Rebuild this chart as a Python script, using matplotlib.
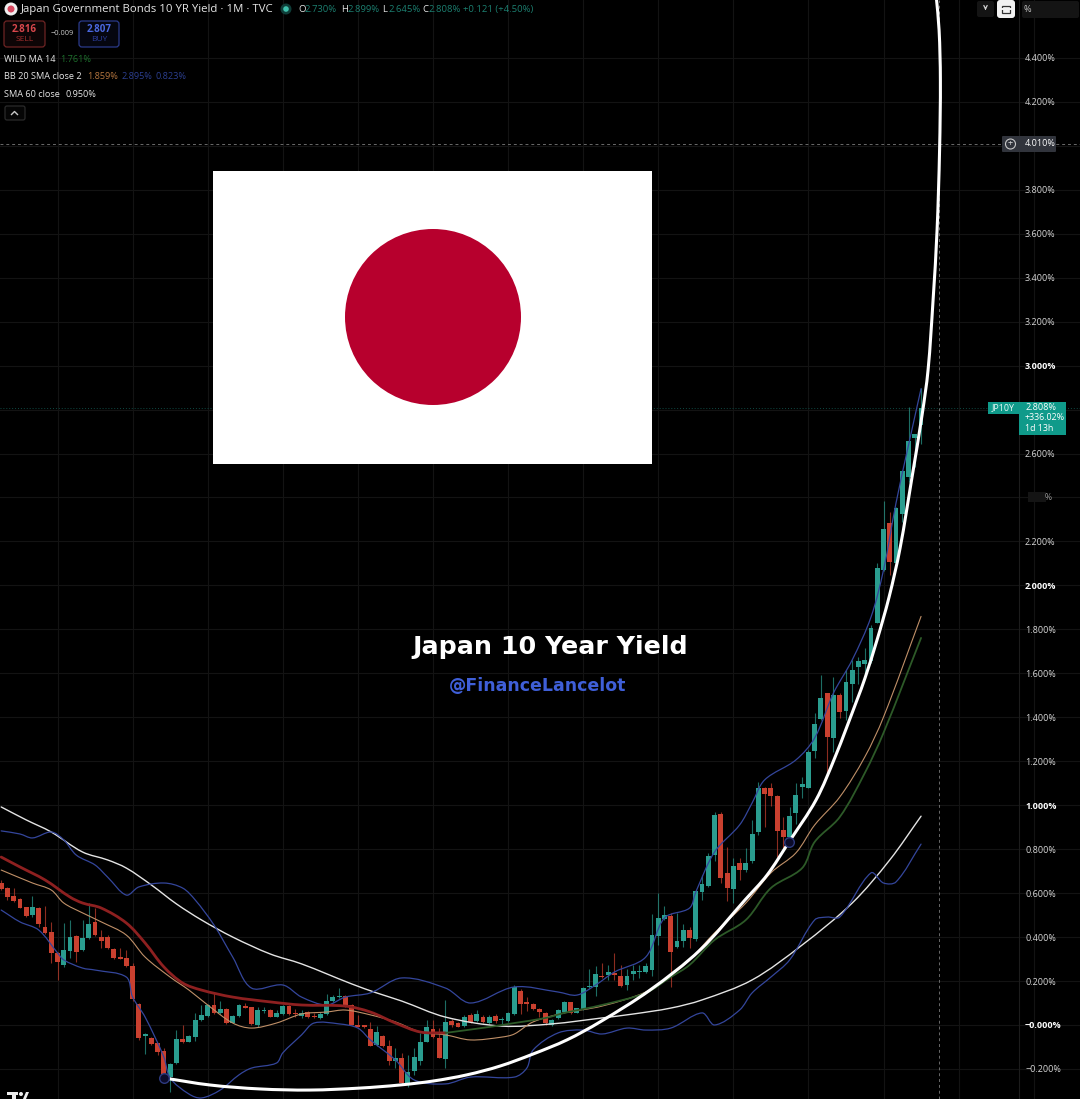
import numpy as np
import matplotlib
matplotlib.use('Agg')
import matplotlib.pyplot as plt
from matplotlib.patches import Rectangle, Circle, FancyBboxPatch, Polygon, PathPatch
from matplotlib.path import Path

# monthly candles (yield in %)
opens = [.647, .622, .588, .572, .535, .499, .534, .447, .421, .329,
         .273, .336, .406, .341, .394, .470, .399, .402, .346, .308,
         .305, .270, .095, -.052, -.061, -.084, -.117, -.238, -.175, -.062,
         -.076, -.053, .023, .041, .091, .053, .072, .011, .041, .088,
         .081, 0, .063, .069, .038, .050, .087, .056, .041, .058,
         .041, .032, .050, .108, .126, .132, .093, 0, -.001, -.018,
         -.089, -.050, -.094, -.166, -.148, -.262, -.210, -.166, -.076, -.018,
         -.059, -.153, .019, .008, -.004, .046, .020, .038, .008, .043,
         .023, .017, .050, .155, .106, .096, .075, .056, 0, .031,
         .058, .103, .056, .072, .172, .175, .223, .228, .238, .223,
         .182, .232, .241, .243, .248, .405, .483, .496, .354, .383,
         .433, .390, .604, .633, .774, .960, .690, .618, .736, .706,
         .744, .878, 1.077, 1.080, 1.042, .888, .857, .963, 1.082, 1.080,
         1.248, 1.391, 1.509, 1.305, 1.502, 1.430, 1.552, 1.627, 1.642, 1.655,
         1.830, 2.070, 2.285, 2.103, 2.327, 2.494, 2.670, 2.730]
closes = [.617, .581, .565, .534, .497, .538, .458, .420, .329, .285,
          .341, .402, .333, .397, .459, .409, .380, .350, .303, .302,
          .270, .117, -.061, -.040, -.087, -.121, -.223, -.178, -.065, -.076,
          -.050, .023, .046, .091, .053, .072, .011, .041, .091, .079,
          .005, .069, .069, .038, .053, .088, .050, .050, .056, .035,
          .037, .050, .111, .129, .131, .087, .002, -.007, -.010, -.094,
          -.033, -.095, -.162, -.151, -.265, -.212, -.145, -.076, -.009, -.056,
          -.148, .015, -.001, -.007, .038, .012, .050, .012, .038, .017,
          .028, .053, .175, .096, .096, .072, .058, .011, .023, .069,
          .106, .053, .076, .170, .178, .231, .217, .243, .226, .178,
          .225, .244, .246, .269, .410, .486, .501, .334, .380, .433,
          .398, .610, .642, .769, .956, .668, .625, .725, .706, .736,
          .869, 1.076, 1.051, 1.042, .884, .854, .951, 1.047, 1.095, 1.244,
          1.370, 1.487, 1.309, 1.502, 1.426, 1.559, 1.615, 1.655, 1.660, 1.804,
          2.077, 2.256, 2.107, 2.353, 2.521, 2.656, 2.688, 2.808]
highs = [.660, .629, .622, .576, .538, .587, .538, .541, .470, .333,
         .462, .478, .409, .478, .553, .531, .432, .409, .349, .349,
         .341, .280, .101, -.038, -.053, -.081, -.106, -.172, -.023, 0,
         -.046, .053, .091, .096, .144, .107, .076, .046, .096, .099,
         .084, .081, .084, .072, .069, .091, .091, .072, .069, .064,
         .053, .061, .141, .137, .167, .135, .096, .046, .002, .015,
         -.003, -.045, -.068, -.106, -.129, -.136, -.106, -.038, .023, .023,
         -.015, .114, .026, .015, .046, .053, .069, .046, .046, .049,
         .038, .058, .182, .163, .129, .099, .078, .059, .026, .072,
         .110, .106, .079, .175, .254, .269, .281, .273, .329, .273,
         .254, .273, .273, .281, .505, .602, .542, .508, .508, .460,
         .448, .615, .683, .781, .971, .971, .812, .759, .759, .804,
         .933, 1.107, 1.082, 1.100, 1.047, .948, .994, 1.100, 1.127, 1.252,
         1.418, 1.593, 1.512, 1.585, 1.509, 1.615, 1.661, 1.675, 1.713, 1.819,
         2.103, 2.385, 2.335, 2.358, 2.527, 2.810, 2.691, 2.899]
lows = [.614, .569, .561, .531, .490, .493, .447, .414, .280, .205,
        .265, .303, .288, .338, .390, .405, .349, .344, .300, .299,
        .265, .110, -.068, -.132, -.091, -.137, -.228, -.303, -.178, -.084,
        -.079, -.075, .020, .038, .050, .050, .005, .008, .038, .076,
        0, -.007, .053, .035, .035, .046, .046, .038, .031, .032,
        .034, .029, .046, .105, .125, .084, -.001, -.010, -.013, -.097,
        -.094, -.098, -.182, -.197, -.268, -.283, -.227, -.182, -.079, -.060,
        -.151, -.197, -.007, -.010, -.007, .008, .015, .008, .005, .008,
        .005, .014, .047, .050, .064, .069, .035, 0, -.004, .026,
        .053, .050, .053, .069, .170, .132, .213, .205, .205, .172,
        .157, .205, .213, .238, .223, .364, .478, .175, .349, .357,
        .349, .384, .569, .630, .744, .645, .562, .554, .660, .698,
        .736, .865, .903, .997, .766, .804, .812, .915, 1.032, 1.077,
        1.214, 1.388, 1.145, 1.244, 1.396, 1.388, 1.470, 1.550, 1.600, 1.645,
        1.827, 2.067, 2.047, 2.100, 2.289, 2.471, 2.540, 2.645]

# indicators, sampled along the chart as (month index, yield)
sma_idx = [0, 4, 8, 13, 17, 20, 24, 28, 32, 37, 43, 48, 56, 60, 64, 71, 80, 88, 96, 101,
           107, 112, 120, 128, 136, 142, 147]
sma_val = [.992, .933, .878, .787, .751, .714, .637, .551, .478, .400, .323, .278, .187, .146,
           .109, .036, -.005, .005, .032, .050, .077, .114, .205, .364, .555, .751, .950]
bb_up_idx = [0, 3, 5, 8, 10, 12, 15, 17, 20, 22, 26, 29, 31, 34, 37, 40, 45, 48, 52, 55, 59, 64,
             71, 75, 82, 89, 92, 95, 98, 103, 106, 110, 111, 114, 118, 120, 122, 127, 130, 133,
             136, 139, 141, 143, 145, 147]
bb_up_val = [.883, .869, .851, .878, .842, .773, .728, .673, .591, .628, .646, .623, .569, .455,
             .309, .168, .182, .127, .091, .127, .146, .214, .168, .100, .173, .150, .136, .182,
             .241, .309, .487, .532, .605, .787, .910, 1.010, 1.115, 1.206, 1.306, 1.510, 1.661,
             1.856, 2.070, 2.375, 2.639, 2.895]
bb_lo_idx = [0, 3, 6, 9, 10, 13, 15, 20, 21, 23, 26, 27, 30, 32, 35, 38, 40, 44, 45, 48, 50, 54,
             57, 59, 63, 66, 71, 75, 82, 84, 85, 89, 93, 96, 100, 103, 107, 112, 114, 118, 120,
             123, 126, 130, 132, 134, 139, 141, 143, 147]
bb_lo_val = [.523, .469, .432, .328, .296, .259, .250, .218, .127, .036, -.146, -.241, -.314, -.332,
             -.296, -.227, -.196, -.173, -.127, -.045, .009, .005, -.014, -.068, -.159, -.250,
             -.268, -.237, -.237, -.196, -.114, -.036, -.023, -.041, -.014, -.023, -.014, .055, 0,
             .068, .146, .218, .296, .478, .491, .491, .692, .646, .651, .823]
bb_mid_idx = [0, 5, 8, 10, 13, 16, 20, 23, 27, 30, 33, 37, 40, 44, 48, 52, 55, 59, 63, 67, 71, 75,
              80, 82, 85, 90, 96, 103, 107, 110, 114, 119, 123, 127, 130, 134, 138, 141, 147]
bb_mid_val = [.705, .646, .614, .555, .510, .469, .409, .309, .218, .159, .091, .009, -.014, .009,
              .050, .059, .068, .046, .014, -.032, -.045, -.068, -.055, -.041, .014, .055, .086,
              .150, .227, .296, .419, .555, .692, .783, .910, 1.037, 1.219, 1.401, 1.859]
wild_idx = [0, 3, 7, 11, 13, 16, 20, 23, 26, 29, 32, 37, 43, 48, 55, 59, 63, 67, 71, 78, 82, 87, 90,
            96, 103, 107, 110, 114, 119, 123, 128, 130, 134, 138, 141, 147]
wild_val = [.764, .719, .660, .582, .555, .532, .464, .373, .264, .191, .159, .127, .105, .091,
            .086, .059, .009, -.032, -.036, -.009, .009, .032, .055, .091, .146, .218, .273, .387,
            .478, .623, .714, .833, .946, 1.146, 1.329, 1.761]
arc_idx = [26, 33.37, 41.36, 49.35, 57.35, 63.7, 69.0, 74.4, 79.7, 85.0, 90.4, 95.7, 103.69, 111.68,
           118.87, 122.39, 125.9, 130.22, 133.26, 136.77, 138.05, 139.97, 141.89, 143.65, 145.56,
           147.16, 148.12, 148.92, 149.56, 149.96, 150.09, 149.88, 149.40]
arc_val = [-.241, -.273, -.291, -.296, -.287, -.273, -.255, -.227, -.187, -.132, -.068, .014, .159,
           .341, .569, .682, .833, 1.024, 1.219, 1.479, 1.579, 1.752, 1.947, 2.170, 2.493, 2.775,
           2.980, 3.298, 3.617, 3.981, 4.299, 4.527, 4.686]
anchor_idx = [26, 125.9]
anchor_val = [-.241, .833]

tick_vals = [-.2, 0, .2, .4, .6, .8, 1, 1.2, 1.4, 1.6, 1.8, 2, 2.2, 2.4, 2.6, 2.8, 3, 3.2, 3.4, 3.6,
             3.8, 4, 4.2, 4.4]
tick_text = ['−0.200%', '−0.000%', '0.200%', '0.400%', '0.600%', '0.800%', '1.000%', '1.200%',
             '1.400%', '1.600%', '1.800%', '2.000%', '2.200%', '', '2.600%', '', '3.000%', '3.200%',
             '3.400%', '3.600%', '3.800%', '', '4.200%', '4.400%']
bold_ticks = ['−0.000%', '1.000%', '2.000%', '3.000%']
crosshair_y = 4.010
crosshair_x = 149.9
last_close = 2.808

UP = '#2a9d8f'
DOWN = '#c9402f'
BLUE = '#34469c'
FONT = 'Open Sans'

plt.rcParams['font.family'] = FONT
fig = plt.figure(figsize=(10.8, 10.99), dpi=100, facecolor='black')

# the price chart fills the whole figure
ax = fig.add_axes([0, 0, 1, 1], facecolor='black')
ax.set_xlim(-0.19, 172.4)
ax.set_ylim(-0.3367, 4.6633)
for s in ax.spines.values():
    s.set_visible(False)

ax.set_xticks(np.arange(9, 170, 12))
ax.set_yticks(tick_vals)
ax.set_yticklabels(tick_text)
ax.grid(True, color='#131313', linewidth=0.8)
ax.set_axisbelow(True)
ax.tick_params(axis='x', length=0, labelbottom=False)
ax.tick_params(axis='y', length=0, left=False, labelleft=False, labelright=True, pad=-39.6,
               labelsize=6.5, labelcolor='#d6d6d6')
for lab in ax.get_yticklabels():
    if lab.get_text() in bold_ticks:
        lab.set_fontweight('bold')
        lab.set_color('white')

x = np.arange(len(opens))
o, h, l, c = map(np.array, (opens, highs, lows, closes))
colors = [UP if b >= a else DOWN for a, b in zip(opens, closes)]
ax.vlines(x, l, h, colors=colors, linewidth=0.8, alpha=0.7, zorder=3)
ax.bar(x, np.abs(c - o), bottom=np.minimum(o, c), width=0.78, color=colors, linewidth=0, zorder=4)


def smooth_line(xs, ys, **kw):
    # rounded line through the read points, tangents weighted by pixel distance
    pts = ax.transData.transform(np.column_stack([xs, ys]))
    d = np.maximum(np.hypot(*np.diff(pts, axis=0).T), 1e-6)
    tang = np.zeros_like(pts)
    tang[1:-1] = (pts[2:] - pts[:-2]) / (d[:-1] + d[1:])[:, None]
    tang[0] = (pts[1] - pts[0]) / d[0]
    tang[-1] = (pts[-1] - pts[-2]) / d[-1]
    verts = [pts[0]]
    codes = [Path.MOVETO]
    for i in range(len(pts) - 1):
        verts += [pts[i] + tang[i] * d[i] / 3, pts[i + 1] - tang[i + 1] * d[i] / 3, pts[i + 1]]
        codes += [Path.CURVE4] * 3
    verts = ax.transData.inverted().transform(np.array(verts))
    ax.add_patch(PathPatch(Path(verts, codes), facecolor='none', capstyle='round', **kw))


smooth_line(sma_idx, sma_val, edgecolor='#e4e4e4', linewidth=1.0, zorder=5)
smooth_line(bb_up_idx, bb_up_val, edgecolor=BLUE, linewidth=0.9, zorder=5)
smooth_line(bb_lo_idx, bb_lo_val, edgecolor=BLUE, linewidth=0.9, zorder=5)
smooth_line(bb_mid_idx, bb_mid_val, edgecolor='#c09068', linewidth=0.8, zorder=5)

# wilder MA is red while falling, green once it turns up
turn = wild_idx.index(71)
smooth_line(wild_idx[:turn + 1], wild_val[:turn + 1], edgecolor='#8e2020', linewidth=2.0, zorder=5)
smooth_line(wild_idx[turn:], wild_val[turn:], edgecolor='#2d5a28', linewidth=1.3, zorder=5)

smooth_line(arc_idx, arc_val, edgecolor='white', linewidth=2.2, zorder=6)
ax.scatter(anchor_idx, anchor_val, s=48, facecolor='#0b0b2a', edgecolor='#2d3a80', linewidth=1, zorder=7)

ax.axhline(crosshair_y, color='#6a6a6a', linewidth=0.7, linestyle=(0, (3, 3)), zorder=2)
ax.axvline(crosshair_x, color='#6a6a6a', linewidth=0.7, linestyle=(0, (3, 3)), zorder=2)
ax.axhline(last_close, color='#0f4a44', linewidth=0.7, linestyle=(0, (1, 2)), zorder=2)
ax.axvline(162.6, color='#1c1c1c', linewidth=0.8, zorder=1)

# overlay in pixel coordinates for the flag and the platform furniture
ui = fig.add_axes([0, 0, 1, 1])
ui.set_xlim(0, 1080)
ui.set_ylim(1099, 0)
ui.axis('off')
ui.patch.set_alpha(0)


def label(px, py, s, color='#e6e6e6', size=6.6, ha='left', weight='normal', family=FONT):
    ui.text(px, py, s, color=color, fontsize=size, ha=ha, va='center', fontweight=weight, family=family)


def box(x0, y0, x1, y1, face, edge='none', r=3):
    ui.add_patch(FancyBboxPatch((x0 + r, y0 + r), x1 - x0 - 2 * r, y1 - y0 - 2 * r,
                                boxstyle=f'round,pad={r}', facecolor=face, edgecolor=edge, linewidth=0.9))


# flag
ui.add_patch(Rectangle((213, 171), 439, 293, facecolor='white', edgecolor='none'))
ui.add_patch(Circle((433, 317), 88, facecolor='#b7002d', edgecolor='none'))

# titles
label(550, 647, 'Japan 10 Year Yield', color='white', size=18.3, ha='center', weight='bold', family='DejaVu Sans')
label(537.5, 686, '@FinanceLancelot', color='#3f5fd8', size=12.5, ha='center', weight='bold', family='DejaVu Sans')

# header row
ui.add_patch(Circle((11, 9), 6.5, facecolor='#efefef', edgecolor='none'))
ui.add_patch(Circle((11, 9), 3.5, facecolor='#d8485f', edgecolor='none'))
label(21, 9.5, 'Japan Government Bonds 10 YR Yield · 1M · TVC', size=8.2)
ui.add_patch(Circle((286, 9), 5.5, facecolor='#0f3d38', edgecolor='none'))
ui.add_patch(Circle((286, 9), 2.8, facecolor='#3fc0ac', edgecolor='none'))
TEAL = '#1c7f70'
for px, letter, val in [(298, 'O', '2.730%'), (341, 'H', '2.899%'), (382, 'L', '2.645%'), (422, 'C', '2.808%')]:
    label(px, 9.5, letter, size=6.8)
    label(px + 6.5, 9.5, val, color=TEAL, size=6.8)
label(463, 9.5, '+0.121 (+4.50%)', color=TEAL, size=6.8)

# sell / buy
box(4, 21, 45, 47, '#0d0506', '#6e2424')
label(24.5, 29, '2.816', color='#d9474c', size=7, ha='center', weight='bold')
label(24.5, 39.5, 'SELL', color='#a5302f', size=6, ha='center')
label(62, 33.5, '−0.009', color='#c8c8c8', size=5.4, ha='center')
box(79, 21, 119, 47, '#05060f', '#2b3a8a')
label(99, 29, '2.807', color='#4a68e0', size=7, ha='center', weight='bold')
label(99, 39.5, 'BUY', color='#2c3d9c', size=6, ha='center')

# indicator legend
label(4, 59, 'WILD MA 14', size=6.6)
label(60, 59, '1.761%', color='#1d6f2c', size=6.6)
label(4, 76.5, 'BB 20 SMA close 2', size=6.6)
label(87, 76.5, '1.859%', color='#b5763f', size=6.6)
label(121, 76.5, '2.895%', color='#2c3f90', size=6.6)
label(155, 76.5, '0.823%', color='#2c3f90', size=6.6)
label(4, 94.5, 'SMA 60 close', size=6.6)
label(65, 94.5, '0.950%', size=6.6)
box(5, 106, 25, 120, '#050505', '#2a2a2a', r=2)
ui.plot([11.5, 14.5, 17.5], [114.5, 111.5, 114.5], color='#c8c8c8', linewidth=1)

# top right buttons
box(977, 1, 994, 17, '#141414', r=2)
ui.annotate('', xy=(985.5, 13), xytext=(985.5, 5),
            arrowprops=dict(arrowstyle='->', color='#d0d0d0', linewidth=0.9, mutation_scale=6))
box(997, 0, 1015, 18, '#f2f2f2', r=3)
ui.add_patch(Rectangle((1002, 5.5), 8, 7, facecolor='none', edgecolor='#333333', linewidth=0.9))
ui.add_patch(Rectangle((1000, 8), 12, 2, facecolor='#f2f2f2', edgecolor='none'))
box(1022, 1, 1079, 18, '#141414', r=2)
label(1024, 10, '%', color='#c8c8c8', size=6.6)

# crosshair label
box(1002, 136, 1056, 152, '#31343c', r=1)
ui.add_patch(Circle((1010.5, 144), 5, facecolor='none', edgecolor='#c8c8c8', linewidth=0.8))
label(1010.5, 143.7, '+', color='#d8d8d8', size=6.5, ha='center')
label(1025, 144, '4.010%', color='white', size=6.5)

# last price tag
ui.add_patch(Rectangle((988, 402), 31, 12, facecolor='#0f9a8a', edgecolor='none'))
ui.add_patch(Rectangle((1019, 402), 47, 33, facecolor='#0f9a8a', edgecolor='none'))
label(1003.5, 408, 'JP10Y', color='#e8fbf8', size=6.4, ha='center')
label(1025, 408, '2.808%', color='white', size=6.6)
label(1025, 418, '+336.02%', color='white', size=6.4)
label(1025, 428.5, '1d 13h', color='white', size=6.4)

# blurred-out 2.400% label
ui.add_patch(Rectangle((1028, 492), 18, 10, facecolor='#141414', edgecolor='none'))
label(1045, 497, '%', color='#9a9a9a', size=6.2)

# watermark logo cut by the bottom edge
ui.add_patch(Rectangle((7, 1092), 11, 2.5, facecolor='#ececec', edgecolor='none'))
ui.add_patch(Rectangle((12, 1092), 4, 7, facecolor='#ececec', edgecolor='none'))
ui.add_patch(Circle((21, 1094), 2, facecolor='#ececec', edgecolor='none'))
ui.add_patch(Polygon([[23, 1099], [26, 1092], [29, 1092], [26, 1099]], facecolor='#ececec', edgecolor='none'))

fig.savefig('out.png', dpi=100, facecolor='black')
plt.close(fig)
